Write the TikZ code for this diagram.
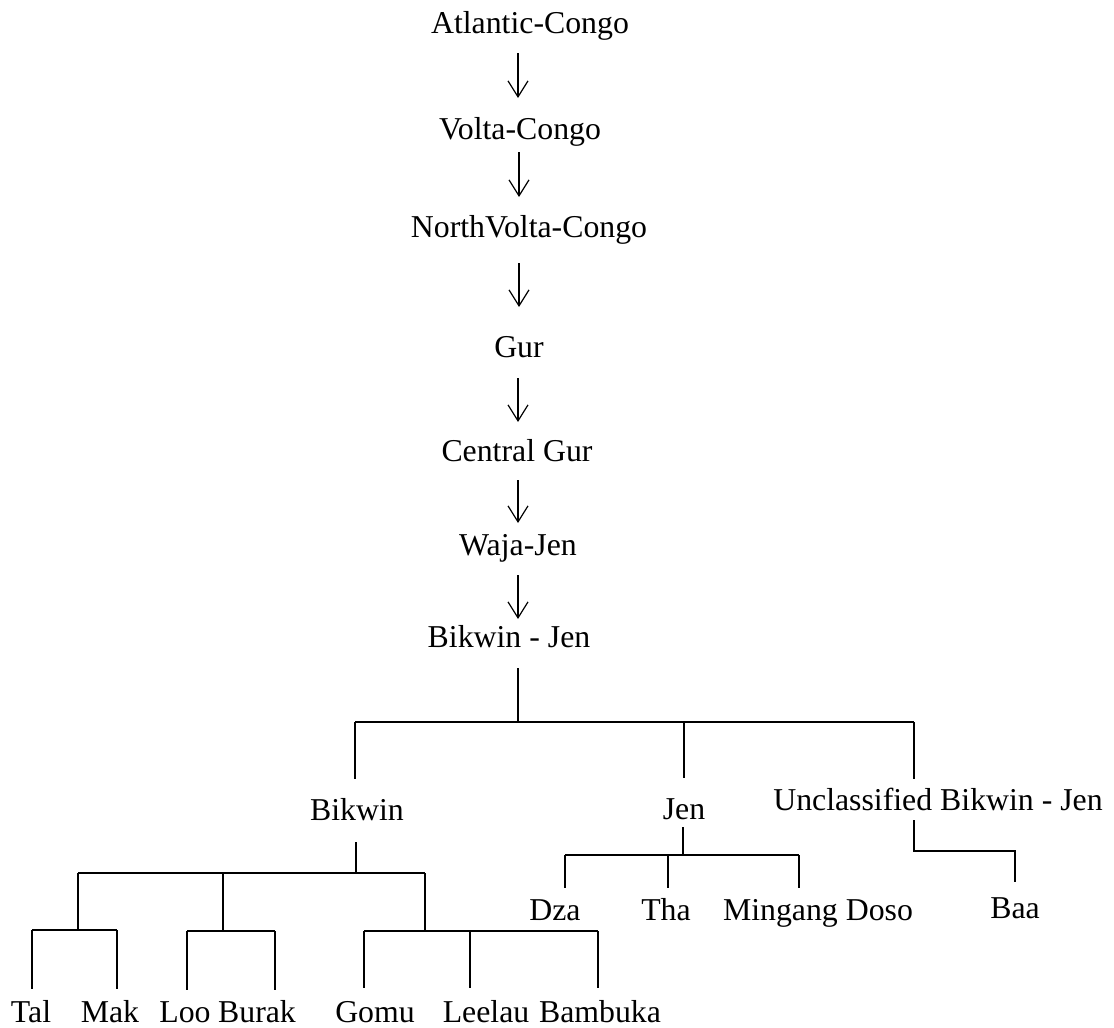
\documentclass[tikz,border=0pt]{standalone}
\usepackage{fontspec}
\setmainfont{Liberation Serif}
\usetikzlibrary{arrows.meta}
\begin{document}
\begin{tikzpicture}[x=1pt,y=-1pt,
  lbl/.style={inner sep=0pt,anchor=base,font=\fontsize{31.8}{38}\selectfont},
  arr/.style={line width=1.2pt,-{Straight Barb[length=16pt,width=20pt,line width=1.2pt]}},
  tree/.style={line width=1.8pt}]
\useasboundingbox (0,0) rectangle (1114,1028);
% labels
\node[lbl] (ac)  at (530,33)  {Atlantic-Congo};
\node[lbl] (vc)  at (520,139) {Volta-Congo};
\node[lbl] (nvc) at (529,237) {NorthVolta-Congo};
\node[lbl] (gur) at (519,357) {Gur};
\node[lbl] (cg)  at (517,461) {Central Gur};
\node[lbl] (wj)  at (518,555) {Waja-Jen};
\node[lbl] (bj)  at (509,647) {Bikwin - Jen};
\node[lbl] (bik) at (357,820) {Bikwin};
\node[lbl] (jen) at (684,819) {Jen};
\node[lbl] (unc) at (938,810) {Unclassified Bikwin - Jen};
\node[lbl] (dza) at (555,920) {Dza};
\node[lbl] (tha) at (666,920) {Tha};
\node[lbl] (min) at (818,920) {Mingang Doso};
\node[lbl] (baa) at (1015,918) {Baa};
\node[lbl] (tal) at (31,1022)  {Tal};
\node[lbl] (mak) at (110,1022) {Mak};
\node[lbl] (loo) at (185,1022) {Loo};
\node[lbl] (bur) at (257,1022) {Burak};
\node[lbl] (gom) at (375,1022) {Gomu};
\node[lbl] (lee) at (486,1022) {Leelau};
\node[lbl] (bam) at (600,1022) {Bambuka};
% arrow end points
\coordinate (a1s) at (518,53);  \coordinate (a1e) at (518,98);
\coordinate (a2s) at (519,152); \coordinate (a2e) at (519,197);
\coordinate (a3s) at (519,263); \coordinate (a3e) at (519,307);
\coordinate (a4s) at (518,378); \coordinate (a4e) at (518,422);
\coordinate (a5s) at (518,480); \coordinate (a5e) at (518,523);
\coordinate (a6s) at (518,575); \coordinate (a6e) at (518,619);
\draw[arr] (a1s) -- (a1e);
\draw[arr] (a2s) -- (a2e);
\draw[arr] (a3s) -- (a3e);
\draw[arr] (a4s) -- (a4e);
\draw[arr] (a5s) -- (a5e);
\draw[arr] (a6s) -- (a6e);
% Bikwin - Jen split
\coordinate (bjs) at (518,668); \coordinate (bjh) at (518,722);
\coordinate (bjl) at (355,722); \coordinate (bjm) at (684,722); \coordinate (bjr) at (914,722);
\coordinate (bikt) at (355,779); \coordinate (jent) at (684,778); \coordinate (unct) at (914,779);
\draw[tree] (bjs) -- (bjh);
\draw[tree] (bjl) -- (bjr);
\draw[tree] (bjl) -- (bikt);
\draw[tree] (bjm) -- (jent);
\draw[tree] (bjr) -- (unct);
% Bikwin split
\coordinate (bks) at (356,842); \coordinate (bkh) at (356,873);
\coordinate (bkl) at (78,873); \coordinate (bkm) at (223,873); \coordinate (bkr) at (425,873);
\coordinate (bkl2) at (78,930); \coordinate (bkm2) at (223,931); \coordinate (bkr2) at (425,931);
\draw[tree] (bks) -- (bkh);
\draw[tree] (bkl) -- (bkr);
\draw[tree] (bkl) -- (bkl2);
\draw[tree] (bkm) -- (bkm2);
\draw[tree] (bkr) -- (bkr2);
% Tal / Mak
\coordinate (tmL) at (32,930); \coordinate (tmR) at (117,930);
\coordinate (talt) at (32,989); \coordinate (makt) at (117,989);
\draw[tree] (tmL) -- (tmR);
\draw[tree] (tmL) -- (talt);
\draw[tree] (tmR) -- (makt);
% Loo / Burak
\coordinate (lbL) at (187,931); \coordinate (lbR) at (275,931);
\coordinate (loot) at (187,990); \coordinate (burt) at (275,990);
\draw[tree] (lbL) -- (lbR);
\draw[tree] (lbL) -- (loot);
\draw[tree] (lbR) -- (burt);
% Gomu / Leelau / Bambuka
\coordinate (gL) at (364,931); \coordinate (gM) at (470,931); \coordinate (gR) at (598,931);
\coordinate (gomt) at (364,988); \coordinate (leet) at (470,988); \coordinate (bamt) at (598,988);
\draw[tree] (gL) -- (gR);
\draw[tree] (gL) -- (gomt);
\draw[tree] (gM) -- (leet);
\draw[tree] (gR) -- (bamt);
% Jen split
\coordinate (js) at (683,827); \coordinate (jh) at (683,855);
\coordinate (jL) at (565,855); \coordinate (jM) at (668,855); \coordinate (jR) at (799,855);
\coordinate (dzat) at (565,888); \coordinate (that) at (668,888); \coordinate (mint) at (799,888);
\draw[tree] (js) -- (jh);
\draw[tree] (jL) -- (jR);
\draw[tree] (jL) -- (dzat);
\draw[tree] (jM) -- (that);
\draw[tree] (jR) -- (mint);
% Unclassified -> Baa
\coordinate (us) at (914,820); \coordinate (uh) at (914,851);
\coordinate (ur) at (1015,851); \coordinate (baat) at (1015,882);
\draw[tree] (us) -- (uh) -- (ur) -- (baat);
\end{tikzpicture}
\end{document}
